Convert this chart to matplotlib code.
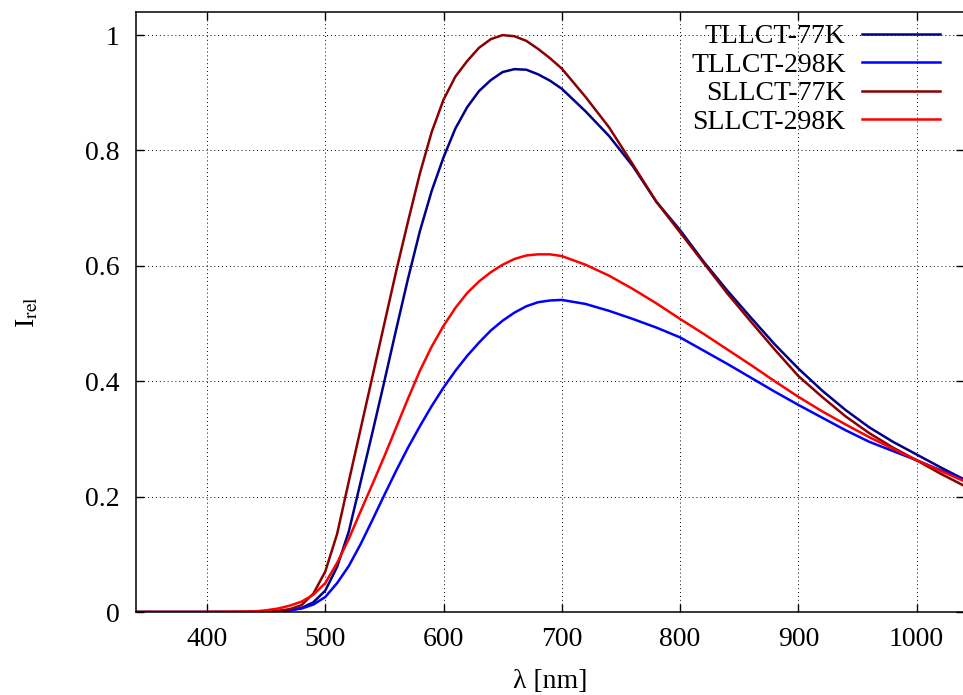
import numpy as np
import matplotlib.pyplot as plt

plt.rcParams["font.family"] = ["Liberation Serif", "DejaVu Serif"]
plt.rcParams["mathtext.fontset"] = "stix"

# wavelength grid (nm) and relative intensities
wl = [340, 400, 440, 450, 460, 470, 480, 490, 500, 510, 520, 530, 540, 550,
      560, 570, 580, 590, 600, 610, 620, 630, 640, 650, 660, 670, 680, 690,
      700, 720, 740, 760, 780, 800, 820, 840, 860, 880, 900, 920, 940, 960,
      980, 1000, 1020, 1040]

tllct_77 = [0, 0, 0, 0.0005, 0.001, 0.003, 0.007, 0.017, 0.037, 0.078, 0.14,
            0.226, 0.312, 0.4, 0.49, 0.578, 0.66, 0.73, 0.788, 0.838, 0.875,
            0.903, 0.922, 0.936, 0.941, 0.94, 0.932, 0.921, 0.907, 0.868,
            0.825, 0.773, 0.711, 0.662, 0.607, 0.557, 0.51, 0.464, 0.422,
            0.384, 0.35, 0.32, 0.295, 0.273, 0.251, 0.23]

tllct_298 = [0, 0, 0, 0.0005, 0.001, 0.003, 0.006, 0.013, 0.026, 0.05, 0.08,
             0.118, 0.16, 0.203, 0.245, 0.285, 0.322, 0.357, 0.389, 0.418,
             0.444, 0.467, 0.488, 0.505, 0.519, 0.53, 0.537, 0.54, 0.541,
             0.534, 0.522, 0.508, 0.493, 0.476, 0.453, 0.43, 0.406, 0.382,
             0.359, 0.337, 0.315, 0.295, 0.279, 0.263, 0.246, 0.23]

sllct_77 = [0, 0, 0, 0.001, 0.002, 0.005, 0.012, 0.032, 0.07, 0.135, 0.227,
            0.318, 0.409, 0.5, 0.591, 0.677, 0.76, 0.832, 0.888, 0.928, 0.955,
            0.978, 0.993, 1.0, 0.998, 0.99, 0.976, 0.96, 0.942, 0.893, 0.84,
            0.776, 0.711, 0.658, 0.605, 0.552, 0.503, 0.455, 0.409, 0.373,
            0.339, 0.31, 0.285, 0.263, 0.24, 0.219]

sllct_298 = [0, 0, 0.001, 0.003, 0.006, 0.011, 0.018, 0.03, 0.05, 0.085, 0.127,
             0.175, 0.222, 0.27, 0.32, 0.37, 0.418, 0.46, 0.496, 0.527, 0.553,
             0.573, 0.589, 0.602, 0.612, 0.618, 0.62, 0.62, 0.617, 0.602,
             0.583, 0.56, 0.535, 0.508, 0.482, 0.455, 0.428, 0.4, 0.373,
             0.348, 0.325, 0.303, 0.283, 0.263, 0.245, 0.227]

labels = ["TLLCT-77K", "TLLCT-298K", "SLLCT-77K", "SLLCT-298K"]
colors = ["#00008b", "#0000ff", "#8b0000", "#ff0000"]

xticks = [400, 500, 600, 700, 800, 900, 1000]
yticks = [0, 0.2, 0.4, 0.6, 0.8, 1.0]
ytick_labels = ["0", "0.2", "0.4", "0.6", "0.8", "1"]

fig = plt.figure(figsize=(9.63, 6.95), dpi=100)
ax = fig.add_axes([0.1412, 0.1194, 0.8598, 0.8633])

for y, lab, c in zip([tllct_77, tllct_298, sllct_77, sllct_298], labels, colors):
    ax.plot(wl, y, color=c, lw=1.8, label=lab)

ax.set_xlim(340, 1040)
ax.set_ylim(0, 1.04)
ax.set_xticks(xticks)
ax.set_yticks(yticks, ytick_labels)
ax.tick_params(direction="in", length=6, width=1, top=True, right=True,
               labelsize=20)
ax.tick_params(axis="x", pad=11)
ax.tick_params(axis="y", pad=12)
ax.grid(True, color="black", linestyle=(0, (1, 3)), linewidth=0.7)
for s in ax.spines.values():
    s.set_linewidth(1.1)

ax.set_xlabel("λ [nm]", fontsize=20, labelpad=12)
ax.set_ylabel(r"I$_{\mathrm{rel}}$", fontsize=20, labelpad=32)

ax.legend(loc="upper right", bbox_to_anchor=(0.971, 0.98), frameon=False,
          markerfirst=False, fontsize=20, handlelength=2.8, handletextpad=0.6,
          labelspacing=0.11, borderaxespad=0, borderpad=0)

fig.savefig("out.png", dpi=100)
